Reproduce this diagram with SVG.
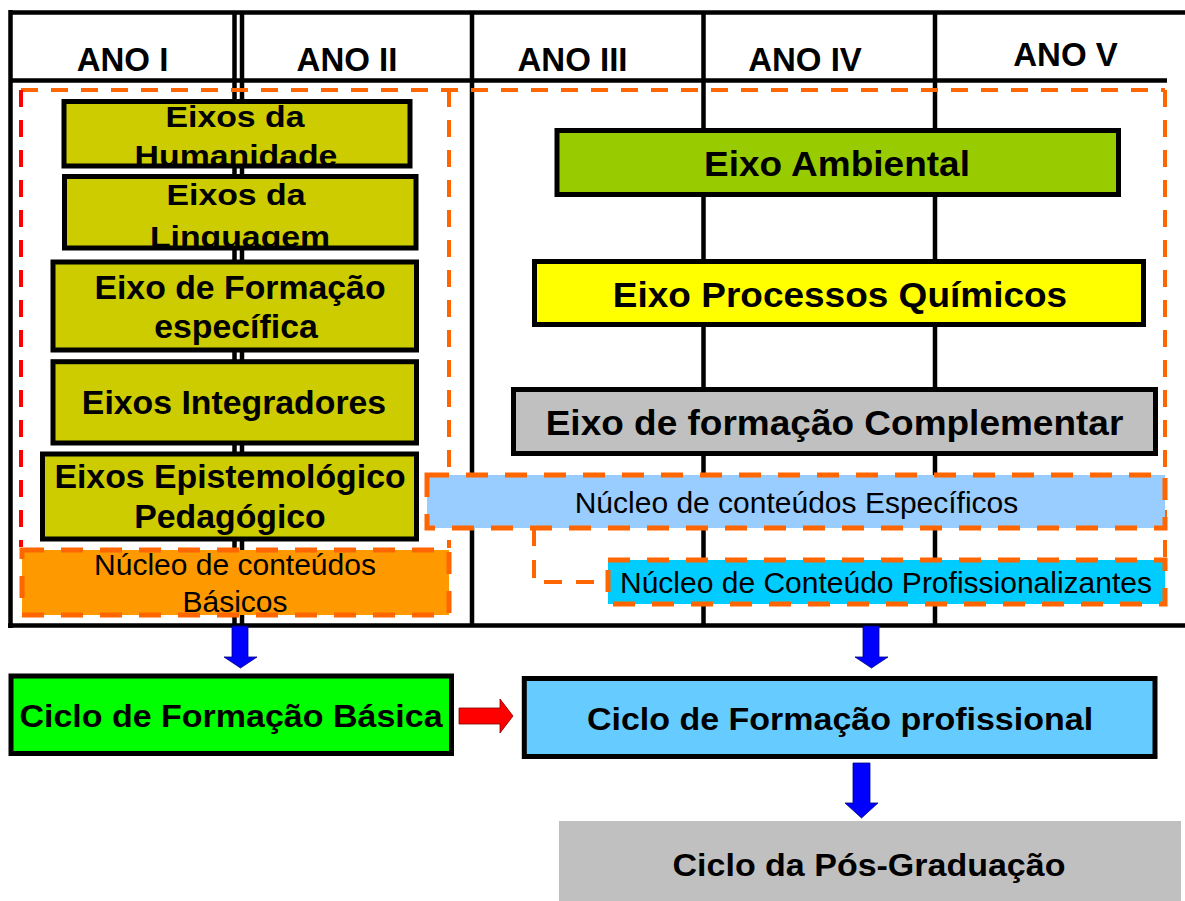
<svg xmlns="http://www.w3.org/2000/svg" width="1185" height="901" viewBox="0 0 1185 901">
<style>
  text { font-family: "Liberation Sans", Arial, sans-serif; fill: #000; text-anchor: middle; }
  .hdr { font-size: 33px; font-weight: bold; }
  .lb { font-size: 33.8px; font-weight: bold; }
  .rb { font-size: 37px; font-weight: bold; }
  .cy { font-size: 34px; font-weight: bold; }
  .nu { font-size: 30px; }
  .tl { stroke: #000; stroke-width: 4.5; fill: none; }
  .box { stroke: #000; stroke-width: 5; }
  .eixo { fill: #CCCC00; }
  .dfr { stroke: #FF6600; stroke-width: 4; fill: none; stroke-dasharray: 17 13; }
  .dbx { stroke: #FF6600; stroke-width: 5; stroke-dasharray: 22 17; }
  .blue { fill: #0000FF; stroke: #000080; stroke-width: 0.8; }
  .red { fill: #FF0000; stroke: #800000; stroke-width: 0.8; }
</style>
<defs>
  <clipPath id="clipHum"><rect x="62" y="99" width="350" height="67"/></clipPath>
  <clipPath id="clipLin"><rect x="62" y="174" width="356" height="74"/></clipPath>
</defs>
<rect width="1185" height="901" fill="#fff"/>

<g id="table">
  <path class="tl" d="M10 12.5 H1185 M10 80.5 H1167 M8 625.5 H1185 M10.5 10 V628 M234.5 12 V625 M242 12 V625 M472 12 V625 M703.5 12 V625 M935 12 V625"/>
  <text class="hdr" x="122.5" y="71">ANO I</text>
  <text class="hdr" x="347" y="71">ANO II</text>
  <text class="hdr" x="572.5" y="71">ANO III</text>
  <text class="hdr" x="805" y="71">ANO IV</text>
  <text class="hdr" x="1065.5" y="66">ANO V</text>
</g>

<g id="frames">
  <path class="dfr" d="M21 90 H1165"/>
  <path class="dfr" d="M1165 90 V560"/>
  <path class="dfr" d="M449 90 V548"/>
  <path class="dfr" d="M21 90 V547" style="stroke:#FF0000"/>
</g>

<g id="eixos-humanidade">
  <rect class="box eixo" x="64" y="101.5" width="346" height="64.5"/>
  <g clip-path="url(#clipHum)">
    <text class="lb" transform="translate(235,127) scale(1,0.86)">Eixos da</text>
    <text class="lb" transform="translate(236,166) scale(1,0.86)">Humanidade</text>
  </g>
</g>
<g id="eixos-linguagem">
  <rect class="box eixo" x="64.5" y="176.5" width="351.5" height="71.5"/>
  <g clip-path="url(#clipLin)">
    <text class="lb" transform="translate(236,205) scale(1,0.86)">Eixos da</text>
    <text class="lb" transform="translate(240,247) scale(1,0.86)">Linguagem</text>
  </g>
</g>
<g id="eixo-formacao-especifica">
  <rect class="box eixo" x="53" y="262" width="363.5" height="88"/>
  <text class="lb" x="240" y="299">Eixo de Formação</text>
  <text class="lb" x="236" y="338">específica</text>
</g>
<g id="eixos-integradores">
  <rect class="box eixo" x="53" y="361.7" width="363.5" height="81.3"/>
  <text class="lb" x="234" y="414">Eixos Integradores</text>
</g>
<g id="eixos-epistemologico">
  <rect class="box eixo" x="42.5" y="454" width="374" height="85"/>
  <text class="lb" x="230" y="488">Eixos Epistemológico</text>
  <text class="lb" x="230" y="528">Pedagógico</text>
</g>

<g id="eixo-ambiental">
  <rect class="box" fill="#99CC00" x="557" y="130.5" width="561.5" height="64"/>
  <text class="rb" transform="translate(837,176) scale(1,0.93)">Eixo Ambiental</text>
</g>
<g id="eixo-processos-quimicos">
  <rect class="box" fill="#FFFF00" x="534.5" y="261.5" width="609" height="63"/>
  <text class="rb" transform="translate(840,306.5) scale(1,0.93)">Eixo Processos Químicos</text>
</g>
<g id="eixo-formacao-complementar">
  <rect class="box" fill="#C0C0C0" x="513.5" y="389.5" width="642" height="64"/>
  <text class="rb" transform="translate(834.5,435) scale(1,0.93)">Eixo de formação Complementar</text>
</g>

<g id="nucleo-basicos">
  <rect class="dbx" fill="#FF9900" x="22" y="550" width="427" height="65"/>
  <text class="nu" x="235" y="575">Núcleo de conteúdos</text>
  <text class="nu" x="235" y="612">Básicos</text>
</g>
<g id="nucleo-especificos">
  <rect class="dbx" fill="#99CCFF" x="427" y="475" width="738" height="53"/>
  <text class="nu" x="796.5" y="513">Núcleo de conteúdos Específicos</text>
</g>
<g id="nucleo-profissionalizantes">
  <rect class="dbx" fill="#00CCFF" x="608" y="560" width="557" height="44"/>
  <text class="nu" x="886" y="593">Núcleo de Conteúdo Profissionalizantes</text>
</g>

<g id="ciclo-basica">
  <rect class="box" fill="#00FF00" x="11" y="676" width="440.5" height="77.5"/>
  <text class="cy" transform="translate(231,727) scale(1,0.92)">Ciclo de Formação Básica</text>
</g>
<g id="ciclo-profissional">
  <rect class="box" fill="#66CCFF" x="524.3" y="678.5" width="630.7" height="78"/>
  <text class="cy" transform="translate(840,730) scale(1,0.92)">Ciclo de Formação profissional</text>
</g>
<g id="ciclo-pos">
  <rect fill="#C0C0C0" x="559" y="821" width="622" height="80"/>
  <text class="cy" transform="translate(869,876) scale(1,0.92)">Ciclo da Pós-Graduação</text>
</g>

<g id="connectors">
  <path d="M534 528 V582 H607" fill="none" stroke="#FF6600" stroke-width="4" stroke-dasharray="18 14"/>
  <polygon class="blue" points="232,626 248,626 248,657 257,657 240.5,668 224,657 232,657"/>
  <polygon class="blue" points="863,626 879,626 879,657 888,657 871.5,668 855,657 863,657"/>
  <polygon class="blue" points="853,763 870,763 870,803 878,803 861.5,818 845,803 853,803"/>
  <polygon class="red" points="459,708 500,708 500,699 513,716 500,733 500,724 459,724"/>
</g>
</svg>
